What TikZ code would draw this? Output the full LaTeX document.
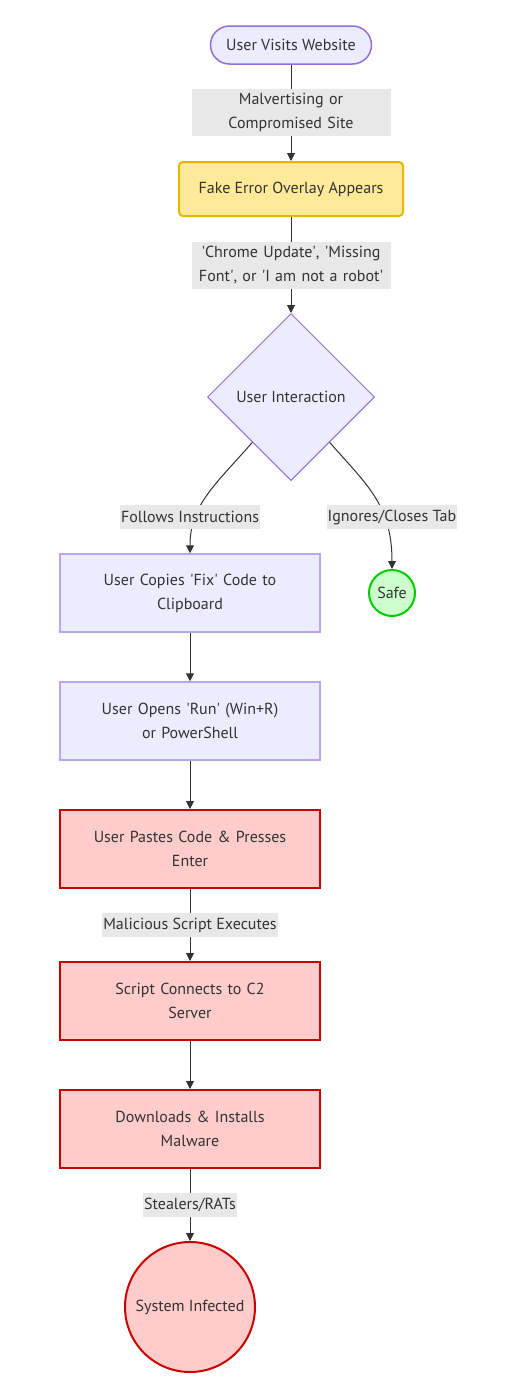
\documentclass[tikz,border=0pt]{standalone}
\usepackage{fontspec}
\setmainfont{PT Sans}
\usetikzlibrary{shapes.geometric,shapes.misc,arrows.meta,calc}
\newcommand{\sq}{\textquotesingle}
\definecolor{txt}{HTML}{333333}
\definecolor{pfill}{HTML}{ECECFF}
\definecolor{pline}{HTML}{9370DB}
\definecolor{pline2}{HTML}{B9A6EE}
\definecolor{yfill}{HTML}{FFEA99}
\definecolor{yline}{HTML}{E5B700}
\definecolor{rfill}{HTML}{FFCCCC}
\definecolor{rline}{HTML}{CC0000}
\definecolor{gfill}{HTML}{CCFFCC}
\definecolor{gline}{HTML}{00CC00}
\definecolor{lbg}{HTML}{E8E8E8}
\definecolor{arr}{HTML}{333333}
\begin{document}
\begin{tikzpicture}[x=1pt,y=-1pt,
  every node/.style={font=\fontsize{16}{24}\selectfont, text=txt},
  stadium/.style={rounded rectangle, draw=pline, fill=pfill, line width=1.5pt, minimum width=161pt, minimum height=38pt, inner sep=0pt},
  ybox/.style={rectangle, rounded corners=4pt, draw=yline, fill=yfill, line width=2pt, minimum width=224pt, minimum height=54pt, inner sep=0pt},
  pbox/.style={rectangle, draw=pline2, fill=pfill, line width=1.5pt, minimum width=260pt, minimum height=78pt, inner sep=0pt, text width=240pt, align=center},
  rbox/.style={rectangle, draw=rline, fill=rfill, line width=2pt, minimum width=260pt, minimum height=78pt, inner sep=0pt, text width=240pt, align=center},
  decision/.style={diamond, aspect=1, draw=pline, fill=pfill, line width=1pt, minimum width=167pt, minimum height=167pt, inner sep=0pt},
  gcirc/.style={circle, draw=gline, fill=gfill, line width=2pt, minimum size=46pt, inner sep=0pt},
  rcirc/.style={circle, draw=rline, fill=rfill, line width=2pt, minimum size=130pt, inner sep=0pt},
  elabel/.style={fill=lbg, inner sep=1pt, minimum height=24pt},
  elabel2/.style={fill=lbg, inner sep=0pt, text width=199pt, align=center, minimum height=47pt},
  conn/.style={draw=arr, line width=1pt, -{Triangle[length=8pt,width=8pt]}}
]
\useasboundingbox (0,0) rectangle (518,1395);
\node[stadium] (start) at (291,45) {User Visits Website};
\node[ybox] (fake) at (291,189) {Fake Error Overlay Appears};
\node[decision] (dec) at (291,397) {User Interaction};
\node[pbox] (copy) at (190,593) {User Copies \sq Fix\sq\ Code to\\Clipboard};
\node[gcirc] (safe) at (392,593) {Safe};
\node[pbox] (run) at (190,721) {User Opens \sq Run\sq\ (Win+R)\\or PowerShell};
\node[rbox] (paste) at (190,849) {User Pastes Code \& Presses\\Enter};
\node[rbox] (c2) at (190,1001) {Script Connects to C2\\Server};
\node[rbox] (dl) at (190,1129) {Downloads \& Installs\\Malware};
\node[rcirc] (inf) at (190,1307) {System Infected};

\draw[conn] (start) -- node[elabel2]{Malvertising or\\Compromised Site} (fake);
\draw[conn] (fake) -- node[elabel2]{\sq Chrome Update\sq, \sq Missing\\Font\sq, or \sq I am not a robot\sq} (dec);
\coordinate (dl1) at ($(dec.west)!0.54!(dec.south)$);
\coordinate (dr1) at ($(dec.east)!0.54!(dec.south)$);
\draw[conn] (dl1) .. controls (215,485) and (190,505) .. (copy.north);
\draw[conn] (dr1) .. controls (367,485) and (392,505) .. (safe.north);
\node[elabel] (lf) at (190,517) {Follows Instructions};
\node[elabel] (li) at (392,517) {Ignores/Closes Tab};
\draw[conn] (copy) -- (run);
\draw[conn] (run) -- (paste);
\draw[conn] (paste) -- node[elabel]{Malicious Script Executes} (c2);
\draw[conn] (c2) -- (dl);
\draw[conn] (dl) -- node[elabel]{Stealers/RATs} (inf);
\end{tikzpicture}
\end{document}
